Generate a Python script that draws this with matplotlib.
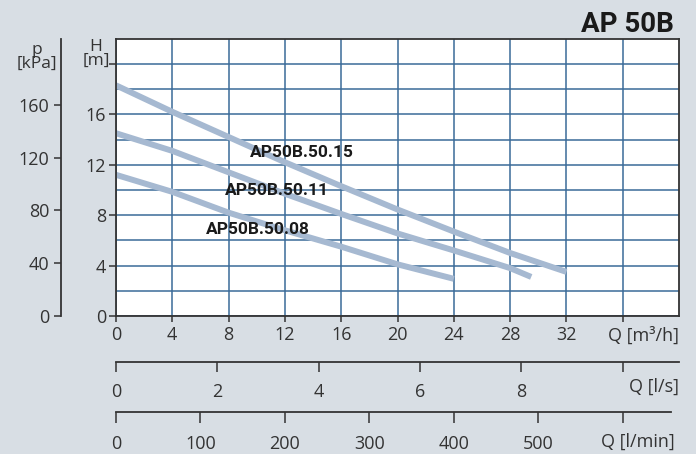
import numpy as np
import matplotlib.pyplot as plt

plt.rcParams['font.family'] = ['Open Sans', 'DejaVu Sans']

# curve data, Q in m3/h and H in m
q_15 = [0, 4, 8, 12, 16, 20, 24, 28, 32]
h_15 = [18.3, 16.2, 14.2, 12.2, 10.3, 8.45, 6.7, 5.0, 3.5]
q_11 = [0, 4, 8, 12, 16, 20, 24, 28, 29.5]
h_11 = [14.5, 13.1, 11.4, 9.7, 8.1, 6.55, 5.2, 3.8, 3.1]
q_08 = [0, 4, 8, 12, 16, 20, 24]
h_08 = [11.2, 9.85, 8.2, 6.8, 5.5, 4.1, 2.95]

nombres = ['AP50B.50.15', 'AP50B.50.11', 'AP50B.50.08']
pos_etiq = [(13.2, 13.0), (11.4, 9.95), (10.1, 6.9)]

ticks_m3h = [0, 4, 8, 12, 16, 20, 24, 28, 32, 36]
ticks_ls = [0, 2, 4, 6, 8, 10]
ticks_lmin = [0, 100, 200, 300, 400, 500, 600]
ticks_kpa = [0, 40, 80, 120, 160]
ticks_h = [0, 4, 8, 12, 16, 20]

fondo = '#d8dee4'
grilla = '#3a6b99'
curva = '#a6b9d1'
texto = '#333333'
negrita = ['Roboto', 'DejaVu Sans']

W, H = 696, 454
fig = plt.figure(figsize=(W / 100, H / 100), dpi=100, facecolor=fondo)

#%% main chart
ax = fig.add_axes([116/W, 1 - 316/H, 563/W, 277.3/H])
ax.set_facecolor('white')
ax.set_xlim(0, 40)
ax.set_ylim(0, 22)

for q, h in [(q_15, h_15), (q_11, h_11), (q_08, h_08)]:
    ax.plot(q, h, color=curva, lw=4.3, solid_capstyle='butt', zorder=3)

for nom, (x, y) in zip(nombres, pos_etiq):
    ax.text(x, y, nom, ha='center', va='center', fontsize=12.5,
            fontweight='bold', family=negrita, color='#1a1a1a', zorder=4)

ax.set_xticks(ticks_m3h)
ax.set_xticklabels([str(t) for t in ticks_m3h[:-1]] + [''])
ax.set_yticks(ticks_h)
ax.set_yticklabels([str(t) for t in ticks_h[:-1]] + [''])
ax.set_yticks(np.arange(2, 22, 4), minor=True)
ax.tick_params(axis='y', which='minor', length=0)
ax.tick_params(axis='x', length=4, width=1.1, colors='#333333',
               labelsize=13, labelcolor=texto, pad=3)
ax.tick_params(axis='y', which='major', length=5, width=1.1, colors='#333333',
               labelsize=13, labelcolor=texto, pad=2)
ax.grid(True, which='both', color=grilla, lw=1.1, zorder=1)
ax.set_axisbelow(True)
for s in ax.spines.values():
    s.set_color('#333333')
    s.set_linewidth(1.3)
    s.set_zorder(5)

#%% pressure axis
ap = fig.add_axes([60.7/W, 1 - 316/H, 0.001, 277.3/H])
ap.set_ylim(0, 210)
ap.set_xticks([])
ap.set_yticks(ticks_kpa)
ap.patch.set_visible(False)
for lado in ['top', 'right', 'bottom']:
    ap.spines[lado].set_visible(False)
ap.spines['left'].set_color('#333333')
ap.spines['left'].set_linewidth(1.3)
ap.tick_params(axis='y', length=5, width=1.1, colors='#333333',
               labelsize=13, labelcolor=texto, pad=3)

#%% flow axes
def eje_caudal(y_px, factor, ticks, largo, fin):
    a = fig.add_axes([116/W, 1 - y_px/H, 563/W, 0.0001])
    a.set_xlim(0, 40 / factor)
    a.patch.set_visible(False)
    for lado in ['top', 'right', 'left']:
        a.spines[lado].set_visible(False)
    a.spines['bottom'].set_color('#333333')
    a.spines['bottom'].set_linewidth(1.3)
    a.spines['bottom'].set_bounds(0, fin / factor)
    a.set_yticks([])
    a.set_xticks(ticks)
    a.set_xticklabels([str(t) for t in ticks[:-1]] + [''])
    a.tick_params(axis='x', length=largo, width=1.1, colors='#333333',
                  labelsize=13, labelcolor=texto, pad=8)
    return a

eje_caudal(361.7, 3.6, ticks_ls, 7, 40)
eje_caudal(412.3, 0.06, ticks_lmin, 8, 39.45)

#%% texts in pixel positions
def texto_px(x, y, s, **kw):
    fig.text(x / W, 1 - y / H, s, **kw)

texto_px(679, 336, 'Q [m³/h]', ha='right', va='center', fontsize=13, color=texto)
texto_px(679, 387, 'Q [l/s]', ha='right', va='center', fontsize=13, color=texto)
texto_px(675, 442, 'Q [l/min]', ha='right', va='center', fontsize=13, color=texto)
texto_px(37, 72, 'p\n[kPa]', ha='center', va='bottom', fontsize=12.5,
         color=texto, linespacing=0.85)
texto_px(96, 69, 'H\n[m]', ha='center', va='bottom', fontsize=12.5,
         color=texto, linespacing=0.85)
texto_px(674, 31.7, 'AP 50B', ha='right', va='baseline', fontsize=20,
         fontweight='bold', family=negrita, color='#1a1a1a')

fig.savefig('out.png', dpi=100, facecolor=fondo)
